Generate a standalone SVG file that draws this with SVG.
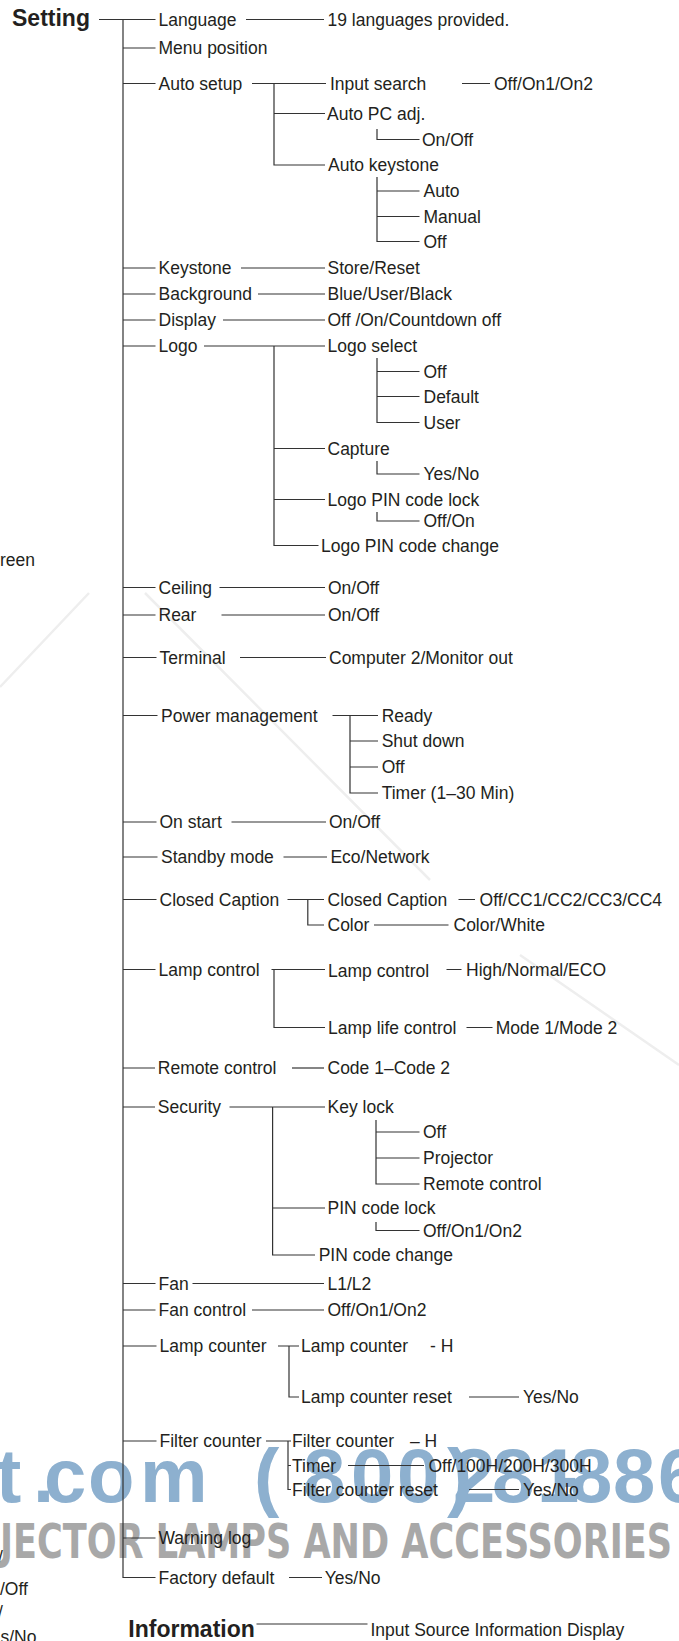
<svg xmlns="http://www.w3.org/2000/svg" width="679" height="1641" viewBox="0 0 679 1641">
<style>
.t{font-family:"Liberation Sans",Arial,Helvetica,sans-serif;font-size:17.5px;fill:#231f20}
.b{font-weight:bold;font-size:23px}
.c{stroke:#333;stroke-width:1.2;fill:none}
.w1{font-family:"Liberation Sans",Arial,sans-serif;font-weight:bold;font-size:76px;fill:#8db0cf}
.w2{font-family:"DejaVu Sans","Liberation Sans",sans-serif;font-weight:bold;font-size:48px;fill:#a8a8a8}
.f{stroke:#eeeeee;stroke-width:2.5;fill:none}
</style>
<rect width="679" height="1641" fill="#ffffff"/>
<g id="watermark">
<path class="f" d="M89,593 L0,687 M145,593 L430,880 M520,955 L679,1065"/>
<text class="w1" x="-4 33 44 88 140" y="1502">t.com</text>
<text class="w1" x="254 303 351 397 447" y="1502">(800)</text>
<text class="w1" x="453 492 537 553 570 613 658" y="1502">281-886</text>
<text class="w2" x="0" y="1558" textLength="672" lengthAdjust="spacingAndGlyphs">JECTOR LAMPS AND ACCESSORIES</text>
</g>
<g id="edge-fragments">
<text class="t" x="0" y="566">reen</text>
<text class="t" x="-2" y="1563">/</text>
<text class="t" x="0" y="1595">/Off</text>
<text class="t" x="-2" y="1618">/</text>
<text class="t" x="0.5" y="1643">s/No</text>
</g>
<g id="connectors">
<path class="c" d="M99,19.5 H155.5 M123,19.5 V1577.5 H155.5"/>
<path class="c" d="M123,48 H155.5 M123,83.5 H155.5 M123,268 H155.5 M123,294 H155.5 M123,320 H155.5 M123,346 H155.5 M123,587.5 H155.5 M123,615 H155.5 M123,657.5 H156.5 M123,715.5 H157.5 M123,822 H156.5 M123,857 H157.5 M123,899.5 H156.5 M123,969.5 H155.5 M123,1068 H155 M123,1107 H155 M123,1283.5 H155.5 M123,1310 H155.5 M123,1346 H156.5 M123,1441 H156.5 M123,1538 H155.5"/>
<path class="c" d="M246,19.5 H324"/>
<path class="c" d="M252,83.5 H326 M274,83.5 V165 H325 M274,113.5 H325 M462,83.5 H490"/>
<path class="c" d="M377,129 V139.5 H419.5 M377,177 V241.5 H419.5 M377,191 H419.5 M377,216.5 H419.5"/>
<path class="c" d="M241,268 H325 M258,294 H325 M223,320 H325"/>
<path class="c" d="M204,346 H325 M274,346 V545.5 H318.5 M274,448.5 H325 M274,499.5 H325"/>
<path class="c" d="M377,358 V422.5 H419.5 M377,371.5 H419.5 M377,396.5 H419.5 M377,461 V474 H419.5 M377,512 V521 H419.5"/>
<path class="c" d="M219.5,587.5 H325 M221.5,615 H325 M240,657.5 H326"/>
<path class="c" d="M332.5,715.5 H378 M350,715.5 V793 H378 M350,741 H378 M350,767 H378"/>
<path class="c" d="M231.5,822 H326 M283.5,857 H327"/>
<path class="c" d="M287.5,899.5 H324 M307.8,899.5 V925 H324 M458.5,899.5 H475 M374,925 H448.5"/>
<path class="c" d="M271.5,969.5 H325 M274,969.5 V1027.5 H325 M446.5,969.5 H461.5 M466.5,1027.5 H492.5"/>
<path class="c" d="M292,1068 H324"/>
<path class="c" d="M229.5,1107 H325 M272.6,1107 V1255 H315 M272.6,1208 H325"/>
<path class="c" d="M376,1120 V1184 H419.5 M376,1132 H419.5 M376,1158 H419.5 M376,1222 V1230.5 H419.5"/>
<path class="c" d="M192.5,1283.5 H324 M252,1310 H324"/>
<path class="c" d="M278,1346 H299 M289,1346 V1397 H299 M469,1397 H519"/>
<path class="c" d="M266,1441 H291 M288,1441 V1489.5 H291 M288,1465.5 H291 M348,1465.5 H424 M469,1489.5 H519"/>
<path class="c" d="M289,1577.5 H322"/>
<path class="c" d="M256.5,1624 H367.5"/>
</g>
<g id="n-setting"><text class="t b" x="12" y="26">Setting</text></g>
<g id="n-language"><text class="t" x="158.5" y="25.8">Language</text><text class="t" x="327.5" y="25.8">19 languages provided.</text></g>
<g id="n-menu-position"><text class="t" x="158.5" y="54.3">Menu position</text></g>
<g id="n-auto-setup"><text class="t" x="158.5" y="89.8">Auto setup</text></g>
<g id="n-input-search"><text class="t" x="330" y="89.8">Input search</text><text class="t" x="494" y="89.8">Off/On1/On2</text></g>
<g id="n-auto-pc"><text class="t" x="327" y="119.8">Auto PC adj.</text><text class="t" x="422" y="145.8">On/Off</text></g>
<g id="n-auto-keystone"><text class="t" x="328" y="171.3">Auto keystone</text><text class="t" x="423.5" y="197.3">Auto</text><text class="t" x="423.5" y="222.8">Manual</text><text class="t" x="423.5" y="247.8">Off</text></g>
<g id="n-keystone"><text class="t" x="158.5" y="274.3">Keystone</text><text class="t" x="327.5" y="274.3">Store/Reset</text></g>
<g id="n-background"><text class="t" x="158.5" y="300.3">Background</text><text class="t" x="327.5" y="300.3">Blue/User/Black</text></g>
<g id="n-display"><text class="t" x="158.5" y="326.3">Display</text><text class="t" x="327.5" y="326.3">Off /On/Countdown off</text></g>
<g id="n-logo"><text class="t" x="158.5" y="352.3">Logo</text></g>
<g id="n-logo-select"><text class="t" x="327.5" y="352.3">Logo select</text><text class="t" x="423.5" y="377.8">Off</text><text class="t" x="423.5" y="402.8">Default</text><text class="t" x="423.5" y="428.8">User</text></g>
<g id="n-capture"><text class="t" x="327.5" y="454.8">Capture</text><text class="t" x="423.5" y="480.3">Yes/No</text></g>
<g id="n-logo-pin-lock"><text class="t" x="327.5" y="505.8">Logo PIN code lock</text><text class="t" x="423.5" y="527.3">Off/On</text></g>
<g id="n-logo-pin-change"><text class="t" x="321" y="551.8">Logo PIN code change</text></g>
<g id="n-ceiling"><text class="t" x="158.5" y="593.8">Ceiling</text><text class="t" x="328" y="593.8">On/Off</text></g>
<g id="n-rear"><text class="t" x="158.5" y="621.3">Rear</text><text class="t" x="328" y="621.3">On/Off</text></g>
<g id="n-terminal"><text class="t" x="159.5" y="663.8">Terminal</text><text class="t" x="329" y="663.8">Computer 2/Monitor out</text></g>
<g id="n-power"><text class="t" x="161" y="721.8">Power management</text><text class="t" x="381.7" y="721.8">Ready</text><text class="t" x="381.7" y="747.3">Shut down</text><text class="t" x="381.7" y="773.3">Off</text><text class="t" x="381.7" y="799.3">Timer (1–30 Min)</text></g>
<g id="n-on-start"><text class="t" x="159.5" y="828.3">On start</text><text class="t" x="329" y="828.3">On/Off</text></g>
<g id="n-standby"><text class="t" x="161" y="863.3">Standby mode</text><text class="t" x="330.4" y="863.3">Eco/Network</text></g>
<g id="n-closed-caption"><text class="t" x="159.5" y="905.8">Closed Caption</text><text class="t" x="327.5" y="905.8">Closed Caption</text><text class="t" x="479.6" y="905.8">Off/CC1/CC2/CC3/CC4</text><text class="t" x="327.5" y="931.3">Color</text><text class="t" x="453.5" y="931.3">Color/White</text></g>
<g id="n-lamp-control"><text class="t" x="158.5" y="975.8">Lamp control</text><text class="t" x="328" y="977">Lamp control</text><text class="t" x="466" y="975.8">High/Normal/ECO</text><text class="t" x="328" y="1033.8">Lamp life control</text><text class="t" x="495.7" y="1033.8">Mode 1/Mode 2</text></g>
<g id="n-remote"><text class="t" x="157.8" y="1074.3">Remote control</text><text class="t" x="327.5" y="1074.3">Code 1–Code 2</text></g>
<g id="n-security"><text class="t" x="157.8" y="1113.3">Security</text></g>
<g id="n-key-lock"><text class="t" x="327.5" y="1113.3">Key lock</text><text class="t" x="423" y="1138.3">Off</text><text class="t" x="423" y="1164.3">Projector</text><text class="t" x="423" y="1190.3">Remote control</text></g>
<g id="n-pin-lock"><text class="t" x="327.5" y="1214.3">PIN code lock</text><text class="t" x="423" y="1236.8">Off/On1/On2</text></g>
<g id="n-pin-change"><text class="t" x="318.7" y="1261.3">PIN code change</text></g>
<g id="n-fan"><text class="t" x="158.5" y="1289.8">Fan</text><text class="t" x="327.5" y="1289.8">L1/L2</text></g>
<g id="n-fan-control"><text class="t" x="158.5" y="1316.3">Fan control</text><text class="t" x="327.5" y="1316.3">Off/On1/On2</text></g>
<g id="n-lamp-counter"><text class="t" x="159.5" y="1352.3">Lamp counter</text><text class="t" x="301" y="1352.3">Lamp counter</text><text class="t" x="430" y="1352.3">- H</text><text class="t" x="301" y="1403.3">Lamp counter reset</text><text class="t" x="523" y="1403.3">Yes/No</text></g>
<g id="n-filter-counter"><text class="t" x="159.5" y="1447.3">Filter counter</text><text class="t" x="292" y="1447.3">Filter counter</text><text class="t" x="410" y="1447.3">– H</text><text class="t" x="292" y="1471.8">Timer</text><text class="t" x="428.5" y="1471.8">Off/100H/200H/300H</text><text class="t" x="292" y="1495.8">Filter counter reset</text><text class="t" x="523" y="1495.8">Yes/No</text></g>
<g id="n-warning-log"><text class="t" x="158.5" y="1544.3">Warning log</text></g>
<g id="n-factory-default"><text class="t" x="158.5" y="1583.8">Factory default</text><text class="t" x="324.8" y="1583.8">Yes/No</text></g>
<g id="n-information"><text class="t b" x="128.3" y="1637">Information</text><text class="t" x="370.4" y="1636">Input Source Information Display</text></g>
</svg>
